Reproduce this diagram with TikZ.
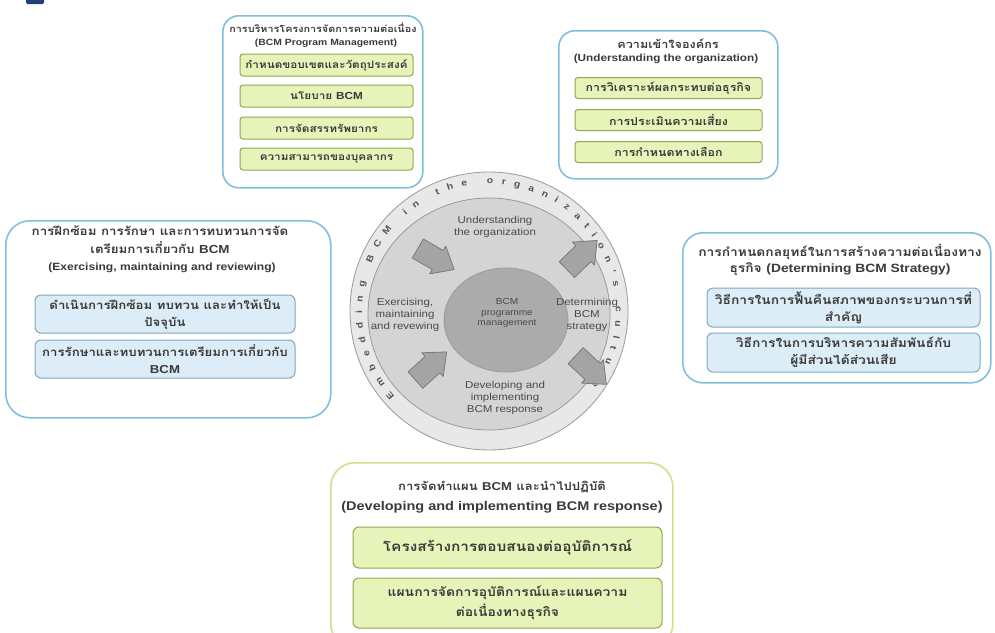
\documentclass[tikz,border=0pt]{standalone}
\usepackage{fontspec}
\setmainfont[Script=Thai, FakeStretch=1.15]{Loma}
\newfontfamily\lat[FakeStretch=1.15]{Liberation Sans}
\usetikzlibrary{decorations.text}
\definecolor{bluebd}{HTML}{7FC1DD}
\definecolor{greenbd}{HTML}{CDE08F}
\definecolor{gboxbd}{HTML}{8FA850}
\definecolor{gboxfill}{HTML}{E6F4BA}
\definecolor{bboxbd}{HTML}{7FA8C2}
\definecolor{bboxfill}{HTML}{DDEDF7}
\definecolor{txt}{HTML}{3A3A3A}
\definecolor{labtxt}{HTML}{4A4A4A}
\definecolor{ringtxt}{HTML}{555555}
\definecolor{ringout}{HTML}{E8E8E8}
\definecolor{ringmid}{HTML}{D4D4D4}
\definecolor{ringin}{HTML}{ABABAB}
\definecolor{ringbd}{HTML}{9A9A9A}
\definecolor{arrowfill}{HTML}{A4A4A4}
\definecolor{arrowbd}{HTML}{7A7A7A}
\definecolor{markblue}{HTML}{1F3F7A}
\tikzset{
 outerB/.style={draw=bluebd, line width=1.6pt, rounded corners=16pt, fill=white, anchor=north west, inner sep=0pt},
 outerG/.style={draw=greenbd, line width=1.6pt, rounded corners=20pt, fill=white, anchor=north west, inner sep=0pt},
 gbox/.style={draw=gboxbd, fill=gboxfill, line width=1pt, rounded corners=3pt, inner sep=0pt, align=center, text=txt},
 bbox/.style={draw=bboxbd, fill=bboxfill, line width=1pt, rounded corners=6pt, inner sep=0pt, align=center, text=txt},
 ttl/.style={text=txt, align=center, inner sep=0pt},
 lab/.style={font=\lat\fontsize{10}{12}\selectfont, text=labtxt, align=center, inner sep=0pt},
 blockarrow/.style={fill=arrowfill, draw=arrowbd, line width=0.8pt, line join=round},
}
\newcommand{\fs}[2]{\fontsize{#1}{#2}\selectfont\bfseries}
\begin{document}
\begin{tikzpicture}[x=1pt,y=1pt]
\useasboundingbox (0,0) rectangle (995,-632);
\fill[white] (0,0) rectangle (995,-632);
\fill[markblue, rounded corners=1.5pt] (26,2) rectangle (44,-4);

% ---- central wheel ----
\draw[fill=ringout, draw=ringbd, line width=0.8pt] (489,-311) circle (139);
\draw[fill=ringmid, draw=ringbd, line width=0.8pt] (489,-314) ellipse (121 and 116);
\draw[fill=ringin, draw=ringbd, line width=0.8pt] (506,-320) ellipse (62 and 52);
\path[decorate, decoration={text along path, text align=fit to path,
  text={|\lat\bfseries\fontsize{9}{9}\selectfont\color{ringtxt}|Embedding BCM in the organization's culture}}]
  ([shift={(489,-311)}]222:127pt) arc[start angle=222, end angle=-36, radius=127pt];

\draw[blockarrow, shift={(436,-259)}, rotate=-30] (-21,-11) -- (2,-11) -- (2,-16) -- (21,0) -- (2,16) -- (2,11) -- (-21,11) -- cycle;
\draw[blockarrow, shift={(582,-255)}, rotate=44] (-21,-11) -- (2,-11) -- (2,-16) -- (21,0) -- (2,16) -- (2,11) -- (-21,11) -- cycle;
\draw[blockarrow, shift={(591,-370)}, rotate=-43] (-21,-11) -- (2,-11) -- (2,-16) -- (21,0) -- (2,16) -- (2,11) -- (-21,11) -- cycle;
\draw[blockarrow, shift={(431,-366)}, rotate=42] (-21,-11) -- (2,-11) -- (2,-16) -- (21,0) -- (2,16) -- (2,11) -- (-21,11) -- cycle;

\node[lab] (cUnd) at (495,-227) {Understanding\\the organization};
\node[lab] (cDet) at (587,-315) {Determining\\BCM\\strategy};
\node[lab] (cDev) at (505,-398) {Developing and\\implementing\\BCM response};
\node[lab] (cExe) at (405,-315) {Exercising,\\maintaining\\and revewing};
\node[lab, font=\lat\fontsize{8.8}{10.5}\selectfont] (cPrg) at (507,-313) {BCM\\programme\\management};

% ---- top-left box ----
\node[outerB, minimum width=200pt, minimum height=172pt] (tlbox) at (222,-15) {};
\node[ttl, font=\fs{9.4}{12}] (tlt1) at (323,-28) {การบริหารโครงการจัดการความต่อเนื่อง};
\node[ttl, font=\lat\fs{9}{12}] (tlt2) at (326,-43) {(BCM Program Management)};
\node[gbox, minimum width=173pt, minimum height=22pt, font=\fs{10.2}{12}] (tl1) at (326.5,-65) {กำหนดขอบเขตและวัตถุประสงค์};
\node[gbox, minimum width=173pt, minimum height=22pt, font=\fs{10.2}{12}] (tl2) at (326.5,-96) {นโยบาย {\lat BCM}};
\node[gbox, minimum width=173pt, minimum height=22pt, font=\fs{10.2}{12}] (tl3) at (326.5,-128) {การจัดสรรทรัพยากร};
\node[gbox, minimum width=173pt, minimum height=22pt, font=\fs{10.2}{12}] (tl4) at (326.5,-159) {ความสามารถของบุคลากร};

% ---- top-right box ----
\node[outerB, minimum width=219pt, minimum height=148pt] (trbox) at (558,-30) {};
\node[ttl, font=\fs{11}{13}] (trt1) at (668,-44) {ความเข้าใจองค์กร};
\node[ttl, font=\lat\fs{10.2}{12}] (trt2) at (666,-59) {(Understanding the organization)};
\node[gbox, minimum width=187pt, minimum height=21pt, font=\fs{10.8}{12}] (tr1) at (668.5,-88) {การวิเคราะห์ผลกระทบต่อธุรกิจ};
\node[gbox, minimum width=187pt, minimum height=21pt, font=\fs{10.8}{12}] (tr2) at (668.5,-120) {การประเมินความเสี่ยง};
\node[gbox, minimum width=187pt, minimum height=21pt, font=\fs{10.8}{12}] (tr3) at (668.5,-152) {การกำหนดทางเลือก};

% ---- left box ----
\node[outerB, minimum width=325pt, minimum height=197pt, rounded corners=24pt] (lbox) at (5,-220) {};
\node[ttl, font=\fs{11.6}{18}] (lt1) at (160,-240) {การฝึกซ้อม การรักษา และการทบทวนการจัด\\เตรียมการเกี่ยวกับ {\lat BCM}};
\node[ttl, font=\lat\fs{10.5}{12}] (lt2) at (162,-268) {(Exercising, maintaining and reviewing)};
\node[bbox, minimum width=260pt, minimum height=38pt, font=\fs{11.5}{17}] (l1) at (165,-314) {ดำเนินการฝึกซ้อม ทบทวน และทำให้เป็น\\ปัจจุบัน};
\node[bbox, minimum width=260pt, minimum height=38pt, font=\fs{11.5}{17}] (l2) at (165,-359) {การรักษาและทบทวนการเตรียมการเกี่ยวกับ\\{\lat BCM}};

% ---- right box ----
\node[outerB, minimum width=308pt, minimum height=150pt, rounded corners=20pt] (rbox) at (682,-232) {};
\node[ttl, font=\fs{12}{16}] (rt1) at (840,-260) {การกำหนดกลยุทธ์ในการสร้างความต่อเนื่องทาง\\ธุรกิจ {\lat (Determining BCM Strategy)}};
\node[bbox, minimum width=273pt, minimum height=39pt, font=\fs{12}{17}] (r1) at (843.5,-307.5) {วิธีการในการฟื้นคืนสภาพของกระบวนการที่\\สำคัญ};
\node[bbox, minimum width=273pt, minimum height=39pt, font=\fs{12}{17}] (r2) at (843.5,-352.5) {วิธีการในการบริหารความสัมพันธ์กับ\\ผู้มีส่วนได้ส่วนเสีย};

% ---- bottom box ----
\node[outerG, minimum width=342pt, minimum height=185pt, rounded corners=24pt] (bbox0) at (330,-462) {};
\node[ttl, font=\fs{11.4}{13}] (bt1) at (502,-487) {การจัดทำแผน {\lat BCM} และนำไปปฏิบัติ};
\node[ttl, font=\lat\fs{12.6}{14}] (bt2) at (502,-507) {(Developing and implementing BCM response)};
\node[gbox, rounded corners=6pt, minimum width=309pt, minimum height=41pt, font=\fs{13.4}{15}] (b1) at (507.5,-547.5) {โครงสร้างการตอบสนองต่ออุบัติการณ์};
\node[gbox, rounded corners=6pt, minimum width=309pt, minimum height=50pt, font=\fs{12.1}{20}] (b2) at (507.5,-603) {แผนการจัดการอุบัติการณ์และแผนความ\\ต่อเนื่องทางธุรกิจ};
\end{tikzpicture}
\end{document}
